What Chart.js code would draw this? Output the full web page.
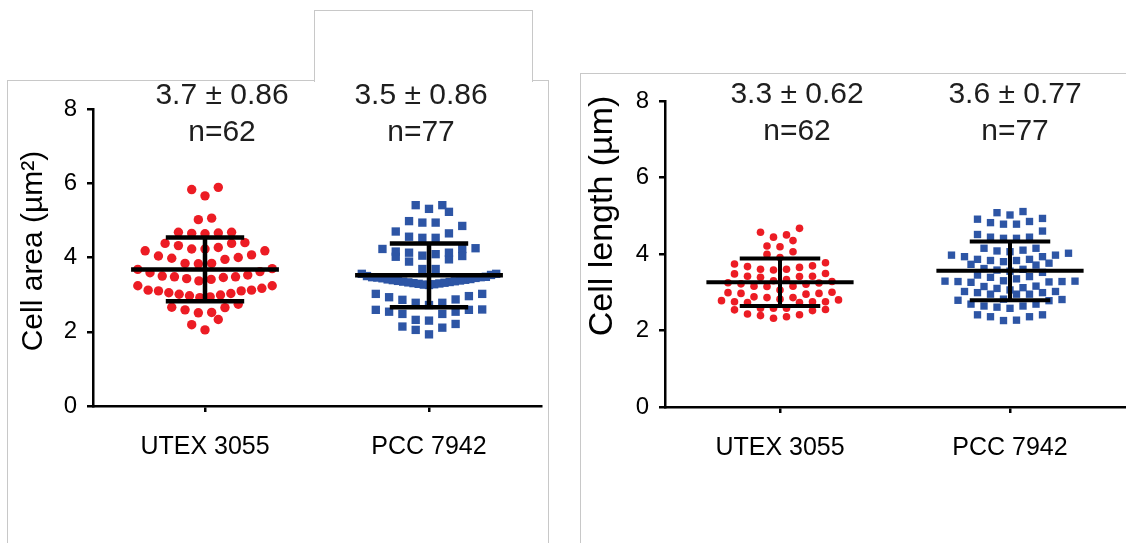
<!DOCTYPE html>
<html>
<head>
<meta charset="utf-8">
<script src="https://cdn.jsdelivr.net/npm/chart.js@4.4.1/dist/chart.umd.min.js"></script>
<style>
  body { margin: 0; width: 1126px; height: 543px; overflow: hidden; position: relative; background: #fff; }
  .frame { position: absolute; border: 1px solid #c8c8c8; }
  #frameArea { left: 7px; top: 80px; width: 540px; height: 500px; border-bottom: none; }
  #frameNotch { left: 314px; top: 10px; width: 217px; height: 71px; border-bottom: none; background: #fff; }
  #frameLength { left: 580px; top: 73px; width: 600px; height: 500px; }
  canvas { position: absolute; top: 0; }
  #areaChart { left: 0; }
  #lengthChart { left: 560px; }
</style>
</head>
<body>
<div class="frame" id="frameArea"></div>
<div class="frame" id="frameNotch"></div>
<div class="frame" id="frameLength"></div>
<canvas id="areaChart" width="560" height="543"></canvas>
<canvas id="lengthChart" width="566" height="543"></canvas>
<script>
// categories and tick values
var categories = ['UTEX 3055', 'PCC 7942'];
var yTicks = [0, 2, 4, 6, 8];

// cell area (µm²), one value per cell
var areaUtex = [5.89, 5.83, 5.66, 5.06, 5.02,
    4.68, 4.66, 4.64, 4.65, 4.68,
    4.38, 4.32, 4.23, 4.18, 4.18, 4.23, 4.27, 4.38, 4.40,
    4.07, 4.00, 3.95, 3.84, 3.83, 3.84, 3.98, 4.04,
    3.62, 3.53, 3.48, 3.46, 3.41, 3.37, 3.43, 3.48, 3.50, 3.59, 3.68, 3.70,
    3.24, 3.12, 3.10, 3.05, 3.01, 2.94, 2.92, 2.97, 2.99, 3.03, 3.10, 3.12, 3.17, 3.24,
    2.74, 2.65, 2.52, 2.51, 2.59, 2.66,
    2.33, 2.05, 2.19];
var areaPcc = [5.41, 5.23, 5.31, 5.41,
    4.98, 4.94, 4.85, 4.94,
    4.70, 4.65, 4.53, 4.53, 4.56,
    4.23, 4.13, 4.09, 4.04, 4.23, 4.25, 3.95, 3.89, 4.02, 4.05, 4.13, 4.16,
    3.69, 3.69, 3.56, 3.53, 3.56,
    3.50, 3.47, 3.47, 3.44, 3.41, 3.40, 3.37, 3.35, 3.34, 3.31, 3.29, 3.28,
    3.26, 3.27, 3.30, 3.32, 3.33, 3.36, 3.38, 3.39, 3.42, 3.45, 3.46, 3.48,
    3.02, 2.96, 2.87, 2.78, 2.72, 2.78, 2.86, 2.93, 3.02,
    2.59, 2.54, 2.48, 2.60, 2.48, 2.54, 2.59,
    2.21, 2.11, 2.32, 2.30, 2.05, 2.14,
    1.93];
var areaMean = [3.68, 3.52];
var areaSd = [0.86, 0.86];
var areaStats = ['3.7 ± 0.86', '3.5 ± 0.86'];
var areaN = ['n=62', 'n=77'];

// cell length (µm)
var lengthUtex = [4.67, 4.57, 4.50, 4.44, 4.35, 4.19, 4.21, 4.06, 3.99, 3.91,
    3.77, 3.69, 3.65, 3.60, 3.58, 3.60, 3.67, 3.74,
    3.49, 3.42, 3.39, 3.42, 3.41, 3.48,
    3.28, 3.24, 3.22, 3.30, 3.25, 3.21, 3.33,
    3.16, 3.15, 3.00, 2.95, 2.99, 2.97, 2.97, 3.06, 3.16, 2.88,
    2.86, 2.82, 2.78, 2.75, 2.73, 2.75, 2.73, 2.75, 2.80, 2.86,
    2.58, 2.55, 2.54, 2.43, 2.39, 2.32, 2.36, 2.41, 2.52, 2.58, 2.58];
var lengthPcc = [5.11, 5.08, 5.02, 4.91, 4.93, 4.78, 4.82, 4.85, 4.78, 4.60, 4.51, 4.44, 4.41, 4.41, 4.44,
    4.15, 4.08, 4.02, 3.93, 3.97, 3.93, 3.97, 4.06, 4.10, 4.15,
    3.86, 3.83, 3.80, 3.71, 3.73, 3.76, 3.83, 3.86,
    3.62, 3.58, 3.55, 3.52, 3.60,
    3.45, 3.39, 3.30, 3.29, 3.27, 3.28, 3.26, 3.28, 3.29, 3.35, 3.41,
    3.16, 3.15, 3.12, 3.02, 2.99, 2.95, 2.95, 2.95, 2.99, 3.02, 3.06, 3.10,
    2.82, 2.79, 2.81, 2.78,
    2.69, 2.64, 2.61, 2.58, 2.64, 2.69,
    2.41, 2.36, 2.26, 2.27, 2.36, 2.41];
var lengthMean = [3.26, 3.56];
var lengthSd = [0.62, 0.77];
var lengthStats = ['3.3 ± 0.62', '3.6 ± 0.77'];
var lengthN = ['n=62', 'n=77'];

var FONT = '"Liberation Sans", Arial, sans-serif';
var colors = ['#ec1c24', '#2d55a5'];

Chart.defaults.font.family = FONT;
Chart.defaults.color = '#000';

// offsets of a row of n dots: centre first, then alternating left/right
function rowSlots(n) {
    var slots = [];
    var start = n % 2 ? 0 : 0.5;
    for (var k = 0; slots.length < n; k++) {
        var d = start + k;
        if (d === 0) { slots.push(0); continue; }
        slots.push(-d);
        if (slots.length < n) slots.push(d);
    }
    return slots;
}

// scatter dot plot: dots binned into rows, mean ± SD bars, stats above
function dotPlot(cfg) {
    return {
        id: 'dotPlot',
        afterDatasetsUpdate: function (chart) {
            var xs = chart.scales.x;
            var step = xs.getPixelForValue(1) - xs.getPixelForValue(0);
            var maxHalf = cfg.spread * step;
            chart.data.datasets.forEach(function (ds, di) {
                var pts = chart.getDatasetMeta(di).data;
                var cx = xs.getPixelForValue(di);
                var order = pts.map(function (p, i) { return i; })
                    .sort(function (a, b) { return pts[b].y - pts[a].y; });
                var row = [];
                function flush() {
                    var n = row.length;
                    var gap = n > 1 ? Math.min(cfg.gap, 2 * maxHalf / (n - 1)) : 0;
                    var slots = rowSlots(n);
                    row.forEach(function (idx, k) { pts[idx].x = cx + slots[k] * gap; });
                    row = [];
                }
                order.forEach(function (i) {
                    if (row.length && pts[row[0]].y - pts[i].y > cfg.rowHeight) flush();
                    row.push(i);
                });
                if (row.length) flush();
            });
        },
        afterDatasetsDraw: function (chart) {
            var ctx = chart.ctx, xs = chart.scales.x, ys = chart.scales.y;
            var step = xs.getPixelForValue(1) - xs.getPixelForValue(0);
            ctx.save();
            ctx.strokeStyle = '#000';
            ctx.lineWidth = cfg.barWidth;
            cfg.mean.forEach(function (m, i) {
                var cx = xs.getPixelForValue(i);
                var ym = ys.getPixelForValue(m);
                var yt = ys.getPixelForValue(m + cfg.sd[i]);
                var yb = ys.getPixelForValue(m - cfg.sd[i]);
                var wm = cfg.meanHalf * step, wc = cfg.capHalf * step;
                ctx.beginPath();
                ctx.moveTo(cx - wm, ym); ctx.lineTo(cx + wm, ym);
                ctx.moveTo(cx - wc, yt); ctx.lineTo(cx + wc, yt);
                ctx.moveTo(cx - wc, yb); ctx.lineTo(cx + wc, yb);
                ctx.moveTo(cx, yt); ctx.lineTo(cx, yb);
                ctx.stroke();
            });
            ctx.restore();
        },
        afterDraw: function (chart) {
            var ctx = chart.ctx, xs = chart.scales.x;
            ctx.save();
            ctx.fillStyle = '#1e1e1e';
            ctx.font = '30px ' + FONT;
            ctx.textAlign = 'center';
            ctx.textBaseline = 'alphabetic';
            cfg.stats.forEach(function (s, i) {
                var x = xs.getPixelForValue(i) + cfg.statShift[i];
                ctx.fillText(s, x, cfg.statY[0]);
                ctx.fillText(cfg.counts[i], x, cfg.statY[1]);
            });
            ctx.fillStyle = '#000';
            ctx.font = cfg.titleSize + 'px ' + FONT;
            ctx.translate(cfg.titleX, cfg.titleY);
            ctx.rotate(-Math.PI / 2);
            ctx.fillText(cfg.title, 0, 0);
            ctx.restore();
        }
    };
}

function makeChart(id, cfg) {
    var axisLine = { color: '#000', width: 2.5 };
    var gridLine = { drawOnChartArea: false, drawTicks: true, tickLength: 6, color: '#000', lineWidth: 2.5 };
    return new Chart(document.getElementById(id), {
        type: 'scatter',
        data: {
            datasets: cfg.series.map(function (vals, i) {
                return {
                    data: vals.map(function (v) { return { x: i, y: v }; }),
                    pointStyle: i === 0 ? 'circle' : 'rect',
                    pointRadius: cfg.radius[i],
                    pointBackgroundColor: colors[i],
                    pointBorderColor: colors[i],
                    pointBorderWidth: 0
                };
            })
        },
        options: {
            responsive: false,
            animation: false,
            events: [],
            layout: { autoPadding: false, padding: cfg.padding },
            plugins: { legend: { display: false }, tooltip: { enabled: false } },
            scales: {
                x: {
                    type: 'linear', min: -0.5, max: 1.5,
                    afterBuildTicks: function (a) { a.ticks = categories.map(function (c, i) { return { value: i }; }); },
                    afterFit: function (a) { a.height = 60; },
                    grid: gridLine, border: axisLine,
                    ticks: {
                        autoSkip: false, maxRotation: 0, padding: 20,
                        font: { size: 25 },
                        callback: function (v) { return categories[v]; }
                    }
                },
                y: {
                    min: 0, max: 8,
                    afterBuildTicks: function (a) { a.ticks = yTicks.map(function (v) { return { value: v }; }); },
                    afterFit: function (a) { a.width = 50; },
                    grid: gridLine, border: axisLine,
                    ticks: { padding: 10, font: { size: 24 } }
                }
            }
        },
        plugins: [dotPlot(cfg)]
    });
}

makeChart('areaChart', {
    series: [areaUtex, areaPcc],
    radius: [4.7, 5.9],
    padding: { left: 43, top: 109, right: 19, bottom: 77 },
    rowHeight: 13.2, gap: 13.3, spread: 0.3,
    mean: areaMean, sd: areaSd, meanHalf: 0.33, capHalf: 0.175, barWidth: 4.5,
    stats: areaStats, counts: areaN, statShift: [17, -8], statY: [104, 141],
    title: 'Cell area (µm²)', titleSize: 30, titleX: 42, titleY: 251
});

makeChart('lengthChart', {
    series: [lengthUtex, lengthPcc],
    radius: [3.8, 5.2],
    padding: { left: 55, top: 101, right: 1, bottom: 76 },
    rowHeight: 9, gap: 13, spread: 0.3,
    mean: lengthMean, sd: lengthSd, meanHalf: 0.32, capHalf: 0.175, barWidth: 4,
    stats: lengthStats, counts: lengthN, statShift: [17, 5], statY: [103, 140],
    title: 'Cell length (µm)', titleSize: 34, titleX: 52, titleY: 216
});
</script>
</body>
</html>
